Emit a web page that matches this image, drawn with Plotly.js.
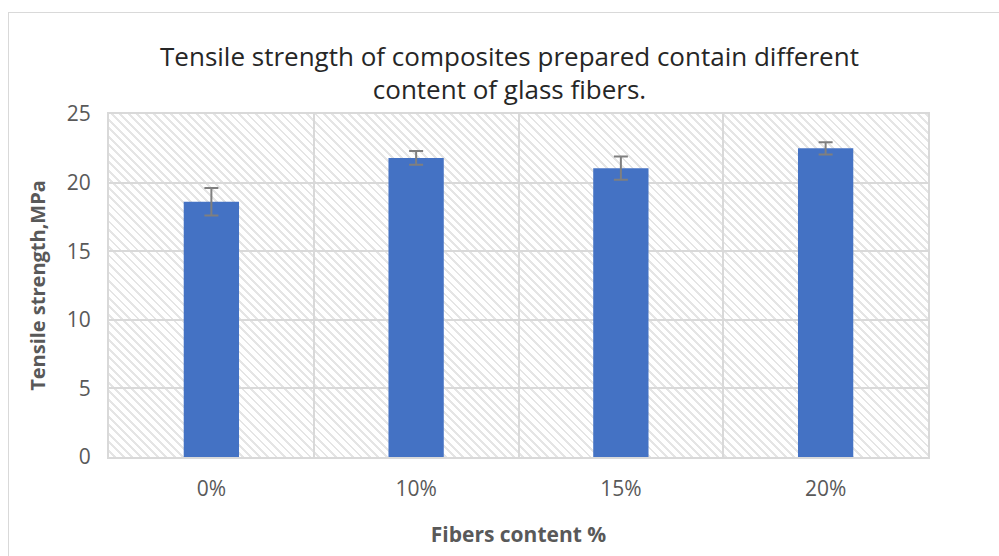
<!DOCTYPE html>
<html><head><meta charset="utf-8">
<script src="https://cdn.plot.ly/plotly-3.0.1.min.js"></script>
<style>
html,body{margin:0;padding:0;background:#fff;}
#wrap{position:relative;width:999px;height:556px;overflow:hidden;}
#frame{position:absolute;left:8px;top:12px;width:1100px;height:700px;border:1px solid #d9d9d9;box-sizing:border-box;}
#hatch{position:absolute;left:109px;top:114px;width:819px;height:343px;
background:repeating-linear-gradient(45deg,#ffffff 0px,#ffffff 3.5px,#e5e5e5 3.5px,#e5e5e5 5.5px,#ffffff 5.5px,#ffffff 6px);}
#chart{position:absolute;left:0;top:0;width:999px;height:556px;}
</style></head>
<body><div id="wrap"><div id="frame"></div><div id="hatch"></div><div id="chart"></div></div>
<script>
const categories = ['0%', '10%', '15%', '20%'];
const strength = [18.6, 21.8, 21.05, 22.5];
const errors = [1.0, 0.5, 0.85, 0.45];
const yTicks = [0, 5, 10, 15, 20, 25];

const trace = {
  type: 'bar', x: categories, y: strength, width: 0.27,
  marker: {color: '#4472C4'},
  error_y: {type: 'data', array: errors, visible: true, color: '#7f7f7f', thickness: 2, width: 7},
  hoverinfo: 'x+y'
};
const layout = {
  width: 999, height: 556,
  margin: {l: 109, r: 71, t: 114, b: 99},
  paper_bgcolor: 'rgba(0,0,0,0)', plot_bgcolor: 'rgba(0,0,0,0)',
  showlegend: false,
  font: {family: 'Open Sans, Noto Sans, sans-serif', color: '#595959'},
  title: {text: 'Tensile strength of composites prepared contain different<br>content of glass fibers.',
    font: {size: 26, color: '#262626'}, x: 0.51, xanchor: 'center', yref: 'container', y: 0.882, yanchor: 'middle'},
  xaxis: {type: 'category', tickson: 'boundaries', showgrid: true, gridcolor: '#d9d9d9', gridwidth: 2,
    ticks: '', tickfont: {size: 21, color: '#595959'}, ticklabelstandoff: 12,
    showline: true, linecolor: '#d9d9d9', linewidth: 2, mirror: true,
    title: {text: '<b>Fibers content %</b>', font: {size: 21, color: '#595959'}, standoff: 26}},
  yaxis: {range: [0, 25], tickvals: yTicks, showgrid: true, gridcolor: '#d9d9d9', gridwidth: 2,
    zeroline: false, ticks: '', tickfont: {size: 21, color: '#595959'}, ticklabelstandoff: 12,
    showline: true, linecolor: '#d9d9d9', linewidth: 2, mirror: true,
    title: {text: '<b>Tensile strength,MPa</b>', font: {size: 20, color: '#595959'}, standoff: 16}}
};
Plotly.newPlot('chart', [trace], layout, {displayModeBar: false, staticPlot: true});
</script></body></html>
